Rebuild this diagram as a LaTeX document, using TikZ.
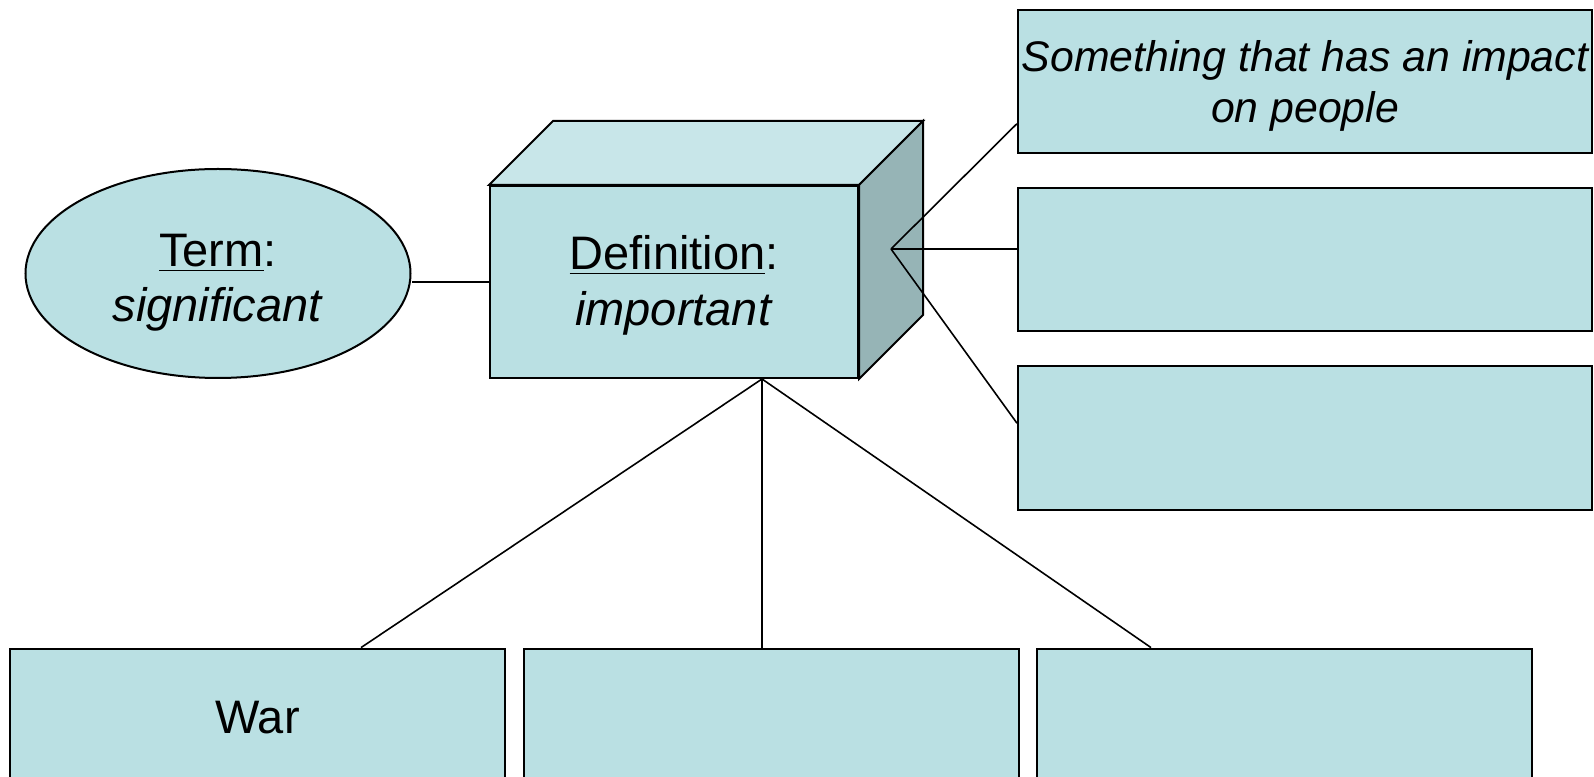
\documentclass[tikz,border=0pt]{standalone}
\usepackage{fontspec}
\setmainfont{Liberation Sans}
\usetikzlibrary{positioning,calc,shapes.geometric}
\definecolor{boxfill} {HTML}{BAE0E3}
\definecolor{topface} {HTML}{C8E6E9}
\definecolor{sideface}{HTML}{96B4B6}
\tikzset{
  card/.style   = {draw=black, line width=1pt, fill=boxfill, align=center,
                   inner sep=2pt, font=\fontsize{23.5}{27.5}\selectfont},
  oval/.style   = {card, ellipse, minimum width=192.5pt, minimum height=104.5pt,
                   inner sep=0pt, text height=48.5pt, text depth=0pt},
  front/.style  = {card, minimum width=184pt, minimum height=96pt,
                   font=\fontsize{23.5}{28}\selectfont,
                   text height=44pt, text depth=0pt},
  wide/.style   = {card, minimum width=287pt, minimum height=71.75pt},
  lowbox/.style = {card, minimum width=247.5pt, minimum height=71.5pt,
                   text height=16.8pt, text depth=3.4pt},
  face/.style   = {draw=black, line width=1pt, line join=miter},
  link/.style   = {draw=black, line width=0.8pt},
}

\begin{document}
\begin{tikzpicture}[x=0.5pt, y=0.5pt]
  \useasboundingbox (0,0) rectangle (1594,776);
  \clip (0,0) rectangle (1594,776);

  % term and definition
  \node[oval] (term) at (218,502.5) {\underline{Term}:\\\textit{significant}};
  \node[front] (def) at (674,494) {\underline{Definition}:\\\textit{important}};
  \draw[face, fill=topface] (def.north west) -- ++(64,64) -- ($(def.north east)+(64,64)$)
    -- (def.north east) -- cycle;
  \draw[face, fill=sideface] (def.north east) -- ++(64,64) -- ($(def.south east)+(64,64)$)
    -- (def.south east) -- cycle;
  \coordinate (sidehub) at ($(def.east)+(32,33)$);
  \coordinate (basehub) at ($(def.south)+(88,0)$);

  % right column
  \node[wide, font=\fontsize{21.4}{25.5}\selectfont\itshape,
        text height=41pt, text depth=0pt] (r1) at (1305,694.25)
    {Something that has an impact\\on people};
  \node[wide, below=16.25pt of r1] (r2) {};
  \node[wide, below=16.5pt of r2] (r3) {};

  % bottom row
  \node[lowbox] (b1) at (257.5,55.9) {War};
  \node[lowbox, right=8.25pt of b1] (b2) {};
  \node[lowbox, right=8pt of b2] (b3) {};

  % links
  \draw[link] (def.west) -- (def.west -| term.east);
  \draw[link] (sidehub) -- ($(r1.west)+(0,-42)$);
  \draw[link] (sidehub) -- (sidehub -| r2.west);
  \draw[link] (sidehub) -- ($(r3.west)+(0,15)$);
  \draw[link] (basehub) -- ($(b1.north)+(103.5,0)$);
  \draw[link] (basehub) -- (basehub |- b2.north);
  \draw[link] (basehub) -- ($(b3.north)+(-133,0)$);
\end{tikzpicture}
\end{document}
